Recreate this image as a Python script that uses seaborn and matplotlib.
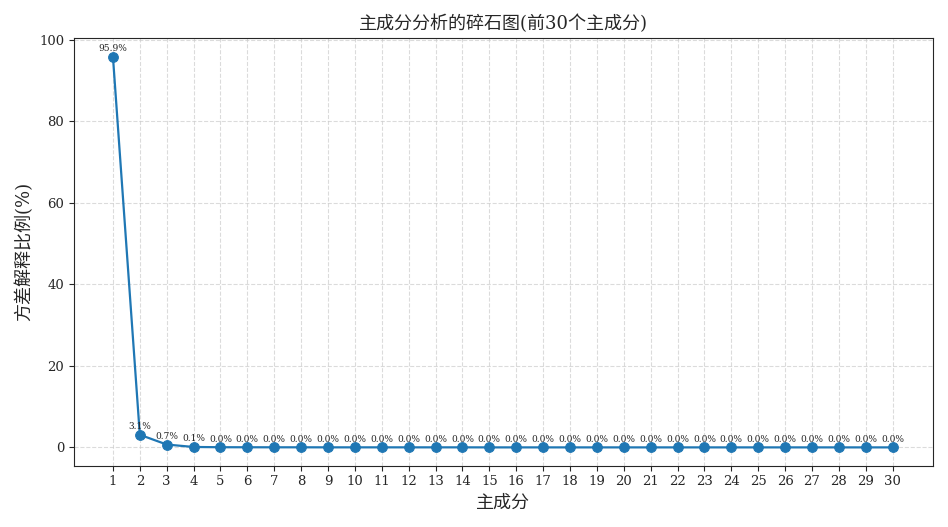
import matplotlib
matplotlib.use("Agg")
import matplotlib.pyplot as plt
import seaborn as sns
import numpy as np

# explained variance ratio (%) for the first 30 components
components = list(range(1, 31))
ratios = [95.9, 3.1, 0.7, 0.1, 0.04, 0.03, 0.02, 0.02, 0.01, 0.01,
          0.01, 0.01, 0.01, 0.01, 0.0, 0.0, 0.0, 0.0, 0.0, 0.0,
          0.0, 0.0, 0.0, 0.0, 0.0, 0.0, 0.0, 0.0, 0.0, 0.0]

sns.set_style("ticks")
plt.rcParams['font.family'] = ['DejaVu Serif', 'Noto Sans CJK SC']
plt.rcParams['axes.unicode_minus'] = False

fig, ax = plt.subplots(figsize=(9.48, 5.27), dpi=100)
sns.lineplot(x=components, y=ratios, marker='o', markersize=7,
             color='#1f77b4', markeredgecolor='#1f77b4', linewidth=1.6, ax=ax)
for c, r in zip(components, ratios):
    ax.annotate(f"{r:.1f}%", (c, r), textcoords="offset points", xytext=(0, 4),
                ha='center', fontsize=6.5)

ax.set_xticks(components)
ax.set_xlim(-0.45, 31.5)
ax.set_ylim(-4.5, 100.5)
ax.grid(True, linestyle='--', color='#cccccc', alpha=0.7)
ax.set_title("主成分分析的碎石图(前30个主成分)", fontsize=13)
ax.set_xlabel("主成分", fontsize=13)
ax.set_ylabel("方差解释比例(%)", fontsize=13)
ax.tick_params(labelsize=9.5)
fig.tight_layout()
fig.savefig("out.png", dpi=100)
